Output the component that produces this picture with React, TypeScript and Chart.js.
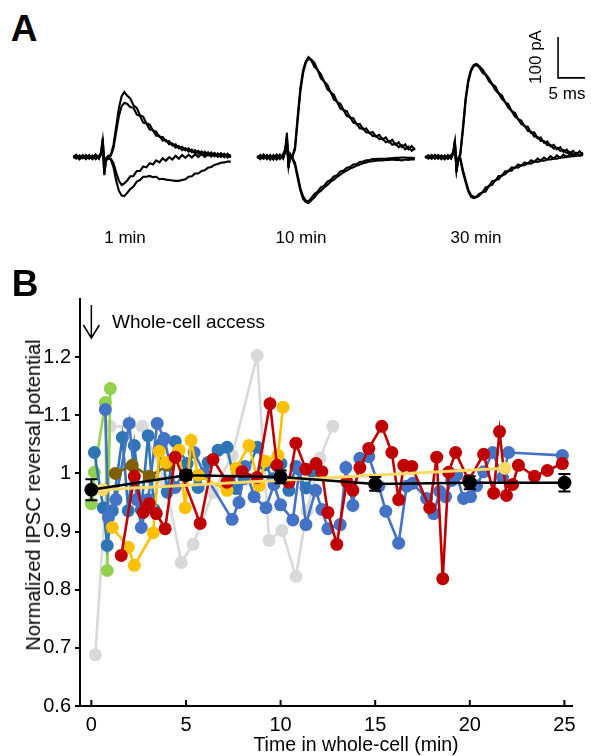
import React, { useEffect, useRef } from 'react';
import { Chart, registerables } from 'chart.js';

Chart.register(...registerables);

const FONT = '"Liberation Sans", Arial, Helvetica, sans-serif';

// ---------------- Panel A : IPSC traces (time in ms, current in pA) ----------------
const TRACE_T = [
  0, 0.6, 1.2, 1.8, 2.4, 3.0, 3.6, 4.2, 4.8, 5.2,
  5.5, 5.8, 6.1, 6.5, 7.0, 7.5, 8.0, 8.5, 9.0, 9.5,
  10.0, 10.6, 11.2, 11.8, 12.4, 13.0, 13.6, 14.2, 14.8, 15.4,
  16.0, 16.6, 17.2, 17.8, 18.4, 19.0, 19.6, 20.2, 20.8, 21.4,
  22.0, 22.6, 23.2, 23.8, 24.4, 25.0, 25.6, 26.2, 26.8, 27.4,
  28.0, 28.6, 29.2,
];

// 1 min
const G1_UP1 = [
  0, 6, -4, 5, -5, 4, -3, 6, -4, 12,
  46, -12, -5, 3, 5, 30, 75, 120, 148, 159,
  150, 143, 126, 120, 102, 98, 82, 79, 64, 62,
  49, 49, 38, 39, 28, 31, 21, 25, 16, 21,
  12, 17, 8, 14, 5, 12, 3, 10, 1, 9,
  0, 8, -1,
];
const G1_UP2 = [
  -2, 4, -5, 3, -4, 5, -5, 4, -3, 10,
  40, -15, -3, 2, 3, 22, 62, 100, 124, 132,
  130, 122, 120, 104, 100, 84, 82, 67, 66, 52,
  52, 40, 42, 31, 33, 23, 27, 17, 22, 13,
  18, 9, 15, 6, 13, 4, 11, 2, 9, 0,
  8, -1, 6,
];
const G1_DN1 = [
  2, -4, 4, -3, 5, -4, 4, -5, 3, 8,
  30, -44, -8, -2, -4, -15, -38, -58, -68, -64,
  -58, -47, -46, -34, -34, -23, -25, -15, -18, -8,
  -13, -3, -9, 0, -6, 3, -4, 5, -2, 6,
  -1, 7, 0, 8, 0, 8, 1, 9, 1, 8,
  0, 7, -1,
];
const G1_DN2 = [
  -1, 3, -5, 4, -3, 3, -4, 5, -3, 6,
  25, -40, -10, -3, -6, -25, -58, -82, -94, -95,
  -88, -78, -72, -60, -56, -48, -48, -46, -49, -48,
  -54, -53, -55, -56, -57, -58, -58, -56, -54, -48,
  -47, -40, -40, -34, -32, -26, -24, -19, -17, -14,
  -13, -11, -11,
];
// 10 min
const G2_UP1 = [
  2, -5, 6, -4, 5, -6, 4, -5, 7, 20,
  59, -20, 8, -2, 25, 100, 170, 212, 234, 244,
  238, 230, 212, 202, 184, 176, 158, 152, 134, 130,
  114, 112, 96, 95, 80, 81, 68, 70, 58, 61,
  50, 54, 43, 48, 36, 42, 30, 36, 24, 31,
  19, 27, 18,
];
const G2_UP2 = [
  -3, 4, -3, 5, -5, 3, -6, 5, -3, 15,
  50, -25, 4, 2, 18, 90, 160, 205, 230, 240,
  236, 220, 212, 192, 184, 165, 159, 140, 135, 118,
  115, 100, 98, 84, 82, 70, 70, 60, 60, 51,
  52, 44, 45, 36, 39, 30, 33, 24, 29, 19,
  25, 15, 21,
];
const G2_DN1 = [
  -1, 5, -4, 4, -6, 5, -3, 6, -4, 15,
  45, -27, 2, -4, -20, -52, -82, -102, -110, -112,
  -106, -98, -88, -82, -74, -68, -60, -55, -48, -43,
  -37, -33, -28, -25, -21, -18, -15, -13, -11, -10,
  -9, -8, -8, -7, -7, -6, -7, -7, -8, -6,
  -7, -5, -6,
];
const G2_DN2 = [
  3, -3, 5, -5, 3, -4, 6, -3, 4, 10,
  38, -22, 5, -1, -14, -45, -76, -96, -106, -108,
  -100, -90, -84, -74, -70, -60, -56, -47, -44, -35,
  -33, -26, -24, -18, -17, -12, -11, -8, -7, -5,
  -5, -4, -4, -4, -3, -3, -2, -2, -1, -1,
  -2, -2, -3,
];
// 30 min
const G3_UP1 = [
  1, -4, 5, -3, 4, -5, 3, -4, 5, 12,
  41, -37, -5, 8, 75, 145, 190, 214, 225, 227,
  222, 214, 202, 192, 178, 172, 156, 151, 134, 129,
  112, 108, 92, 89, 75, 74, 59, 60, 46, 48,
  35, 38, 26, 30, 19, 24, 13, 18, 9, 15,
  6, 14, 5,
];
const G3_UP2 = [
  -2, 4, -4, 5, -3, 4, -5, 5, -3, 8,
  35, -30, -2, 5, 66, 138, 184, 210, 222, 224,
  219, 206, 200, 185, 177, 163, 155, 142, 134, 120,
  113, 99, 93, 80, 77, 64, 62, 50, 49, 39,
  39, 29, 30, 21, 23, 15, 17, 10, 12, 6,
  8, 3, 5,
];
const G3_DN1 = [
  -1, 4, -3, 5, -4, 3, -5, 4, -4, 10,
  38, -35, -8, -6, -38, -62, -85, -97, -100, -98,
  -94, -86, -84, -70, -68, -56, -54, -44, -42, -33,
  -33, -25, -26, -20, -20, -15, -16, -11, -12, -9,
  -9, -6, -6, -4, -4, -1, -1, 1, 1, 3,
  3, 5, 5,
];
const G3_DN2 = [
  2, -3, 4, -4, 5, -3, 4, -4, 3, 8,
  33, -30, -4, -2, -32, -57, -80, -93, -97, -96,
  -90, -86, -74, -72, -59, -58, -46, -46, -35, -35,
  -25, -27, -18, -21, -13, -16, -8, -12, -4, -9,
  -1, -6, 2, -4, 4, -2, 6, 0, 8, 2,
  10, 4, 11,
];

const GROUP_LABELS = ['1 min', '10 min', '30 min'];
const GROUP_TRACES = [
  [G1_UP1, G1_UP2, G1_DN1, G1_DN2],
  [G2_UP1, G2_UP2, G2_DN1, G2_DN2],
  [G3_UP1, G3_UP2, G3_DN1, G3_DN2],
];
const SCALE_BAR_MS = 5;
const SCALE_BAR_PA = 100;

// layout of panel A (data-space offsets of each sweep group)
const GROUP_OFFSET_MS = [0, 34.1, 65.2];
const SCALE_BAR_ANCHOR = { ms: 89.8, pA: 193 };

// ---------------- Panel B : normalized reversal potential ----------------
const X_TICKS = [0, 5, 10, 15, 20, 25];
const Y_TICKS = [0.6, 0.7, 0.8, 0.9, 1.0, 1.1, 1.2];
const ACCESS_T = 0;

const GRAY_T = [0.21, 1.0, 2.69, 3.9, 4.75, 5.38, 6.43, 7.44, 8.76, 9.39, 10.07, 10.81, 11.39, 12.08, 12.76];
const GRAY_V = [0.688, 1.081, 1.081, 0.988, 0.847, 0.878, 0.967, 1.031, 1.203, 0.885, 0.902, 0.823, 0.936, 1.026, 1.081];

const GREEN_T = [0, 0.16, 0.74, 0.84, 1.0];
const GREEN_V = [0.948, 1.002, 1.122, 0.833, 1.146];

const BLUE_B_T = [0.16, 0.63, 0.84, 1.11, 1.64, 1.95, 2.27, 2.64, 3.0, 3.32, 3.69, 4.01, 4.43, 5.06, 5.64, 6.17, 6.7, 7.17, 7.65, 8.07, 8.76, 9.18, 9.6, 10.02, 10.44, 10.81, 11.34, 11.77];
const BLUE_B_V = [1.036, 0.941, 0.876, 0.936, 1.062, 0.936, 1.048, 0.938, 1.065, 0.938, 1.05, 0.968, 1.055, 1.017, 0.976, 1.019, 1.04, 1.045, 0.974, 0.991, 1.045, 1.015, 0.991, 1.017, 0.971, 1.012, 0.975, 1.0];

const BLUE_A_T = [0.74, 0.9, 1.3, 2.0, 2.4, 2.64, 3.0, 3.48, 3.85, 4.43, 5.43, 5.96, 7.44, 7.8, 8.12, 8.6, 9.23, 9.65, 10.0, 10.65, 11.0, 11.34, 11.85, 12.18, 12.5, 13.15, 13.45, 13.82, 14.19, 14.66, 15.19, 15.56, 16.24, 16.66, 16.98, 17.72, 18.09, 18.41, 18.72, 19.04, 19.3, 19.67, 20.04, 20.36, 20.73, 21.21, 21.73, 22.05, 24.89];
const BLUE_A_V = [1.11, 0.924, 0.955, 1.086, 0.955, 0.907, 0.955, 1.086, 1.06, 0.976, 1.036, 1.0, 0.921, 0.95, 1.012, 0.96, 0.941, 0.981, 0.946, 0.92, 1.007, 0.912, 0.971, 0.938, 0.905, 0.912, 1.01, 0.945, 1.026, 1.029, 0.978, 0.935, 0.88, 0.978, 0.983, 0.957, 0.931, 0.969, 0.96, 0.988, 0.997, 0.957, 0.96, 0.979, 1.003, 1.036, 0.993, 1.036, 1.031];

const BROWN_T = [1.27, 2.16, 3.06, 4.06];
const BROWN_V = [1.0, 1.014, 0.995, 1.014];

const GOLD_T = [1.11, 1.95, 2.27, 3.27, 3.59, 3.96, 4.64, 4.96, 5.27, 5.64, 7.17, 7.65, 8.33, 8.86, 9.18, 9.86, 10.13];
const GOLD_V = [0.907, 0.873, 0.842, 0.898, 1.038, 1.019, 1.04, 0.941, 1.057, 0.997, 0.971, 1.009, 1.048, 0.979, 1.021, 1.031, 1.114];

const RED_T = [1.58, 2.27, 2.74, 3.06, 3.43, 3.9, 4.43, 5.75, 6.43, 7.17, 7.96, 8.76, 9.44, 9.81, 10.44, 10.81, 11.34, 11.87, 12.18, 12.5, 12.97, 13.5, 13.82, 14.19, 14.66, 15.35, 15.88, 16.24, 16.51, 16.93, 17.88, 18.25, 18.57, 18.88, 19.25, 19.94, 20.73, 21.26, 21.57, 21.94, 22.26, 22.57, 23.42, 24.1, 24.89];
const RED_V = [0.859, 0.995, 0.933, 0.948, 0.931, 0.905, 1.028, 0.914, 1.024, 0.985, 1.003, 0.993, 1.12, 1.014, 0.985, 1.052, 1.007, 1.017, 1.003, 0.933, 0.878, 0.986, 0.971, 1.01, 1.043, 1.081, 1.036, 0.955, 1.014, 1.012, 0.941, 1.028, 0.819, 1.002, 1.036, 0.988, 1.033, 0.966, 1.072, 0.962, 0.981, 1.014, 0.995, 1.005, 1.017];

const PALE_T = [0.6, 21.85];
const PALE_V = [0.972, 1.009];

const MEAN_T = [0, 5, 10, 15, 20, 25];
const MEAN_V = [0.972, 0.997, 0.994, 0.982, 0.984, 0.984];
const MEAN_ERR = [0.018, 0.008, 0.011, 0.012, 0.011, 0.015];

const pts = (t: number[], v: number[]) => t.map((x, i) => ({ x, y: v[i] }));

const cellSeries = (t: number[], v: number[], color: string) => ({
  data: pts(t, v),
  showLine: true,
  borderColor: color,
  backgroundColor: color,
  pointBackgroundColor: color,
  pointBorderWidth: 0,
  pointRadius: 6.5,
  borderWidth: 2.6,
  tension: 0,
});

const scaleBarPlugin = {
  id: 'scaleBar',
  afterDatasetsDraw(chart: any) {
    const { ctx, scales } = chart;
    const x0 = scales.x.getPixelForValue(SCALE_BAR_ANCHOR.ms);
    const x1 = scales.x.getPixelForValue(SCALE_BAR_ANCHOR.ms + SCALE_BAR_MS);
    const y0 = scales.y.getPixelForValue(SCALE_BAR_ANCHOR.pA);
    const y1 = scales.y.getPixelForValue(SCALE_BAR_ANCHOR.pA + SCALE_BAR_PA);
    ctx.save();
    ctx.strokeStyle = '#000';
    ctx.lineWidth = 1.6;
    ctx.beginPath();
    ctx.moveTo(x0, y1);
    ctx.lineTo(x0, y0);
    ctx.lineTo(x1, y0);
    ctx.stroke();
    ctx.restore();
  },
};

const panelBPlugin = {
  id: 'panelBExtras',
  afterDatasetsDraw(chart: any) {
    const { ctx, chartArea, scales } = chart;
    const xs = scales.x;
    const ys = scales.y;
    ctx.save();
    ctx.strokeStyle = '#000';
    ctx.lineWidth = 2;
    MEAN_T.forEach((t, i) => {
      const px = xs.getPixelForValue(t);
      const yt = ys.getPixelForValue(MEAN_V[i] + MEAN_ERR[i]);
      const yb = ys.getPixelForValue(MEAN_V[i] - MEAN_ERR[i]);
      ctx.beginPath();
      ctx.moveTo(px, yt);
      ctx.lineTo(px, yb);
      ctx.moveTo(px - 6, yt);
      ctx.lineTo(px + 6, yt);
      ctx.moveTo(px - 6, yb);
      ctx.lineTo(px + 6, yb);
      ctx.stroke();
    });
    X_TICKS.forEach((t) => {
      const px = xs.getPixelForValue(t);
      ctx.beginPath();
      ctx.moveTo(px, chartArea.bottom);
      ctx.lineTo(px, chartArea.bottom - 6);
      ctx.stroke();
    });
    const ax = xs.getPixelForValue(ACCESS_T);
    const tip = chartArea.top + 39;
    ctx.lineWidth = 1.5;
    ctx.beginPath();
    ctx.moveTo(ax, chartArea.top + 6);
    ctx.lineTo(ax, tip);
    ctx.moveTo(ax - 8, tip - 13);
    ctx.lineTo(ax, tip);
    ctx.lineTo(ax + 8, tip - 13);
    ctx.stroke();
    ctx.restore();
  },
};

const Label = ({ x, y, size, bold, rotate, left, children }: any) => (
  <div
    style={{
      position: 'absolute',
      left: x,
      top: y,
      transform: `translate(${left ? '0' : '-50%'}, -50%)${rotate ? ` rotate(${rotate}deg)` : ''}`,
      fontSize: size,
      fontWeight: bold ? 700 : 400,
      lineHeight: 1,
      whiteSpace: 'nowrap',
      color: '#000',
      fontFamily: FONT,
    }}
  >
    {children}
  </div>
);

export default function App() {
  const aRef = useRef<HTMLCanvasElement>(null);
  const bRef = useRef<HTMLCanvasElement>(null);

  useEffect(() => {
    const traceSets: any[] = [];
    GROUP_TRACES.forEach((traces, g) => {
      traces.forEach((vals) => {
        traceSets.push({
          data: TRACE_T.map((t, i) => ({ x: t + GROUP_OFFSET_MS[g], y: vals[i] })),
          showLine: true,
          borderColor: '#000',
          borderWidth: 2.1,
          pointRadius: 0,
          tension: 0,
          clip: false,
        });
      });
    });

    const chartA = new Chart(aRef.current as HTMLCanvasElement, {
      type: 'scatter',
      data: { datasets: traceSets },
      options: {
        animation: false,
        responsive: false,
        events: [],
        layout: { padding: 0 },
        plugins: { legend: { display: false }, tooltip: { enabled: false } },
        scales: {
          x: { type: 'linear', display: false, min: 0, max: 95.9 },
          y: { type: 'linear', display: false, min: -251, max: 383 },
        },
      },
      plugins: [scaleBarPlugin],
    } as any);

    const datasets = [
      {
        data: pts(MEAN_T, MEAN_V),
        showLine: true,
        borderColor: '#000',
        pointBackgroundColor: '#000',
        pointBorderWidth: 0,
        pointRadius: 7,
        borderWidth: 2.5,
      },
      { ...cellSeries(PALE_T, PALE_V, '#ffd966'), borderWidth: 3 },
      cellSeries(RED_T, RED_V, '#c00000'),
      cellSeries(GOLD_T, GOLD_V, '#ffc000'),
      cellSeries(BROWN_T, BROWN_V, '#7f6000'),
      cellSeries(BLUE_A_T, BLUE_A_V, '#4472c4'),
      cellSeries(BLUE_B_T, BLUE_B_V, '#2e75b6'),
      cellSeries(GREEN_T, GREEN_V, '#92d050'),
      cellSeries(GRAY_T, GRAY_V, '#d9d9d9'),
    ];

    const chartB = new Chart(bRef.current as HTMLCanvasElement, {
      type: 'scatter',
      data: { datasets },
      options: {
        animation: false,
        responsive: false,
        events: [],
        layout: { padding: { top: 39, right: 19, left: 0, bottom: 0 } },
        plugins: { legend: { display: false }, tooltip: { enabled: false } },
        scales: {
          x: {
            type: 'linear',
            min: -0.6,
            max: 25.4,
            afterBuildTicks: (s: any) => {
              s.ticks = X_TICKS.map((v) => ({ value: v }));
            },
            afterFit: (s: any) => {
              s.height = 50;
            },
            grid: { display: true, drawOnChartArea: false, drawTicks: false },
            border: { display: true, color: '#000', width: 2 },
            ticks: { color: '#000', font: { family: FONT, size: 20 }, padding: 7, maxRotation: 0, autoSkip: false },
          },
          y: {
            type: 'linear',
            min: 0.6,
            max: 1.3,
            afterBuildTicks: (s: any) => {
              s.ticks = Y_TICKS.map((v) => ({ value: v }));
            },
            afterFit: (s: any) => {
              s.width = 80;
            },
            grid: { display: true, drawOnChartArea: false, drawTicks: true, tickLength: 5, color: '#000', lineWidth: 2 },
            border: { display: true, color: '#000', width: 2 },
            ticks: {
              color: '#000',
              font: { family: FONT, size: 20 },
              padding: 4,
              autoSkip: false,
              callback: (v: any) => String(Math.round(Number(v) * 10) / 10),
            },
          },
        },
      },
      plugins: [panelBPlugin],
    } as any);

    return () => {
      chartA.destroy();
      chartB.destroy();
    };
  }, []);

  return (
    <div style={{ position: 'absolute', left: 0, top: 0, width: 591, height: 756, background: '#fff', overflow: 'hidden', fontFamily: FONT }}>
      <canvas ref={aRef} width={518} height={260} style={{ position: 'absolute', left: 73, top: 0, width: 518, height: 260 }} />
      <canvas ref={bRef} width={591} height={496} style={{ position: 'absolute', left: 0, top: 260, width: 591, height: 496 }} />
      <Label x={24} y={28} size={37} bold>A</Label>
      <Label x={25} y={283} size={37} bold>B</Label>
      <Label x={125} y={237} size={17}>{GROUP_LABELS[0]}</Label>
      <Label x={301} y={237} size={17}>{GROUP_LABELS[1]}</Label>
      <Label x={476} y={237} size={17}>{GROUP_LABELS[2]}</Label>
      <Label x={535} y={57} size={17} rotate={-90}>{`${SCALE_BAR_PA} pA`}</Label>
      <Label x={567} y={93} size={17}>{`${SCALE_BAR_MS} ms`}</Label>
      <Label x={112} y={321} size={19} left>Whole-cell access</Label>
      <Label x={33} y={495} size={20} rotate={-90}>Normalized IPSC reversal potential</Label>
      <Label x={356} y={745} size={19.5}>Time in whole-cell (min)</Label>
    </div>
  );
}
